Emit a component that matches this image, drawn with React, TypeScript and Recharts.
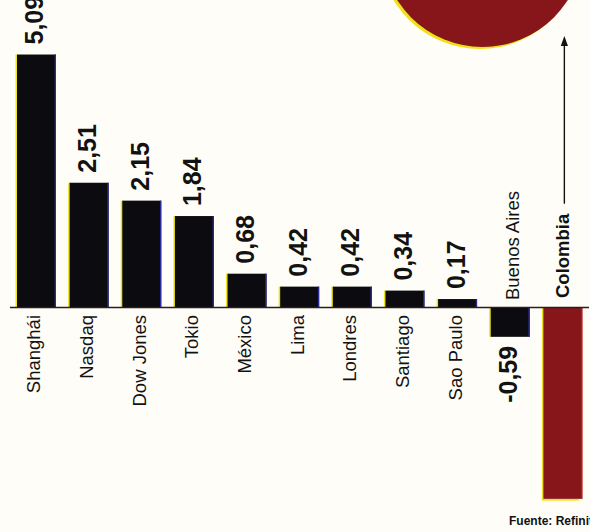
import React from 'react';
import { BarChart, Bar, XAxis, YAxis, Cell, LabelList, ReferenceLine } from 'recharts';

const categories = ['Shanghái', 'Nasdaq', 'Dow Jones', 'Tokio', 'México', 'Lima', 'Londres', 'Santiago', 'Sao Paulo', 'Buenos Aires', 'Colombia'];
const values = [5.09, 2.51, 2.15, 1.84, 0.68, 0.42, 0.42, 0.34, 0.17, -0.59, -3.85];
const highlight = 'Colombia';
const sourceText = 'Fuente: Refinitiv';

const data = categories.map((name, i) => ({ name, value: values[i] }));

const FONT = '"Liberation Sans", Arial, Helvetica, sans-serif';
const INK = '#121212';
const BAR_BLACK = '#0b0b10';
const BAR_RED = '#86161a';
const BG = '#fefdf7';

const fmt = (v: number) => v.toFixed(2).replace('.', ',');

function box(p: any) {
  const vb = p && p.viewBox && p.viewBox.width !== undefined ? p.viewBox : p;
  const x = Number(vb.x), y = Number(vb.y), w = Number(vb.width), h = Number(vb.height);
  return { cx: x + w / 2, top: Math.min(y, y + h), bottom: Math.max(y, y + h) };
}

const BarShape = (p: any) => {
  const { x, y, width, height, index } = p;
  const top = Math.min(y, y + height);
  const h = Math.abs(height);
  const hl = categories[index] === highlight;
  const fill = hl ? BAR_RED : BAR_BLACK;
  return (
    <g>
      <rect x={x - 1.5} y={top} width={2.5} height={hl ? h + 1.5 : h} fill="#efe21a" />
      {hl && <rect x={x - 1.5} y={top + h} width={width - 2} height={1.8} fill="#efe21a" />}
      <rect x={x} y={top} width={width} height={h} fill={fill} />
      <rect x={x + width - 1.3} y={top} width={1.3} height={h} fill={hl ? '#c41a1a' : '#2a2a9a'} />
    </g>
  );
};

const ValueLabel = (p: any) => {
  const i = p.index;
  const v = values[i];
  if (categories[i] === highlight) return null;
  const { cx, top, bottom } = box(p);
  const neg = v < 0;
  const px = cx + 7;
  const py = neg ? bottom + 9 : top - 10;
  return (
    <text
      x={px}
      y={py}
      transform={`rotate(-90 ${px} ${py})`}
      textAnchor={neg ? 'end' : 'start'}
      fontFamily={FONT}
      fontWeight={700}
      fontSize={25}
      fill={INK}
    >
      {fmt(v)}
    </text>
  );
};

const CategoryLabel = (p: any) => {
  const i = p.index;
  const v = values[i];
  const name = categories[i];
  const hl = name === highlight;
  const { cx, top, bottom } = box(p);
  const neg = v < 0;
  const base = neg ? top : bottom;
  const px = cx + (neg ? (hl ? 6.5 : 9) : 4);
  const gap = hl ? 9.5 : 7.5;
  const py = neg ? base - gap : base + gap;
  const fs = 18.5;
  const textLen = fs * 4.556;
  const lx = cx + 1.5;
  const lineStart = py - textLen - 10;
  return (
    <g>
      <text
        x={px}
        y={py}
        transform={`rotate(-90 ${px} ${py})`}
        textAnchor={neg ? 'start' : 'end'}
        fontFamily={FONT}
        fontWeight={hl ? 700 : 400}
        fontSize={fs}
        fill={INK}
      >
        {name}
      </text>
      {hl && (
        <g>
          <line x1={lx} y1={lineStart} x2={lx} y2={44} stroke={INK} strokeWidth={1.4} />
          <polygon points={`${lx},36 ${lx - 3.6},46 ${lx + 3.6},46`} fill={INK} />
        </g>
      )}
    </g>
  );
};

export default function App() {
  return (
    <div
      style={{
        position: 'absolute',
        left: 0,
        top: 0,
        width: 590,
        height: 532,
        overflow: 'hidden',
        background: BG,
        fontFamily: FONT,
      }}
    >
      <svg width={590} height={532} style={{ position: 'absolute', left: 0, top: 0 }}>
        <circle cx={480} cy={-52} r={101} fill="#efe21a" />
        <circle cx={482.5} cy={-54} r={101} fill={BAR_RED} />
      </svg>
      <div style={{ position: 'absolute', left: 0, top: 0 }}>
        <BarChart
          width={590}
          height={532}
          data={data}
          margin={{ top: 0, right: 1, bottom: 0, left: 10 }}
        >
          <XAxis dataKey="name" type="category" hide />
          <YAxis type="number" domain={[-4.517, 6.187]} hide allowDataOverflow />
          <Bar dataKey="value" barSize={39} isAnimationActive={false} shape={BarShape}>
            {data.map((d) => (
              <Cell key={d.name} fill={d.name === highlight ? BAR_RED : BAR_BLACK} />
            ))}
            <LabelList dataKey="value" content={ValueLabel} />
            <LabelList dataKey="name" content={CategoryLabel} />
          </Bar>
          <ReferenceLine y={0} stroke="#2b1e18" strokeWidth={1.6} isFront />
        </BarChart>
      </div>
      <div
        style={{
          position: 'absolute',
          left: 509,
          top: 514,
          fontSize: 12,
          fontWeight: 700,
          color: INK,
          whiteSpace: 'nowrap',
          fontFamily: FONT,
        }}
      >
        {sourceText}
      </div>
    </div>
  );
}
